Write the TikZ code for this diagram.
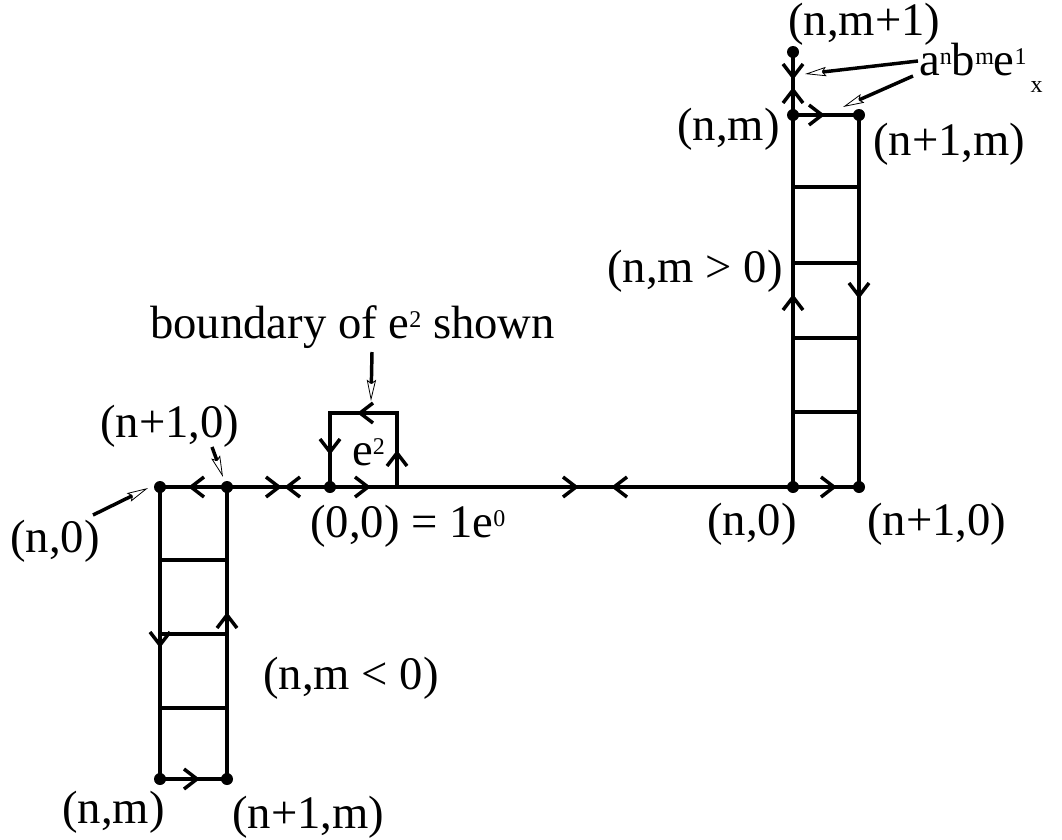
\documentclass[tikz,border=0pt]{standalone}
\usepackage{fontspec}
\setmainfont{Liberation Serif}
\usetikzlibrary{arrows.meta}
\newcommand\supx[1]{\raisebox{8pt}{\fontsize{18}{18}\selectfont #1}}
\newcommand\subx[1]{\raisebox{-13pt}{\fontsize{18}{18}\selectfont #1}}
\begin{document}
\begin{tikzpicture}[x=0.75pt,y=-0.75pt,
  edge/.style={line width=3pt, line cap=rect, line join=miter},
  chevline/.style={line width=2.6pt, line cap=butt, line join=miter},
  lbl/.style={inner sep=0pt, font=\fontsize{35}{40}\selectfont},
  ptr/.style={line width=2.6pt, -{Stealth[open, length=16pt, width=7pt, inset=2.5pt, line width=0.6pt]}},
  chevE/.pic={\draw[chevline] (-13,-10) -- (0,0) -- (-13,10);},
  chevW/.pic={\draw[chevline] (13,-10) -- (0,0) -- (13,10);},
  chevS/.pic={\draw[chevline] (-10,-13) -- (0,0) -- (10,-13);},
  chevN/.pic={\draw[chevline] (-10,13) -- (0,0) -- (10,13);}
]
\useasboundingbox (0,0) rectangle (1062,839);
% grid points
\coordinate (L00) at (160,487);
\coordinate (L10) at (227,487);
\coordinate (La1) at (160,560); \coordinate (Lb1) at (227,560);
\coordinate (La2) at (160,634); \coordinate (Lb2) at (227,634);
\coordinate (La3) at (160,708); \coordinate (Lb3) at (227,708);
\coordinate (L0m) at (160,779); \coordinate (L1m) at (227,779);
\coordinate (O) at (330,487);
\coordinate (B1) at (397,487); \coordinate (B2) at (397,413); \coordinate (B3) at (330,413);
\coordinate (R00) at (793,487); \coordinate (R10) at (859,487);
\coordinate (Ra1) at (793,412); \coordinate (Rb1) at (859,412);
\coordinate (Ra2) at (793,338); \coordinate (Rb2) at (859,338);
\coordinate (Ra3) at (793,263); \coordinate (Rb3) at (859,263);
\coordinate (Ra4) at (793,187); \coordinate (Rb4) at (859,187);
\coordinate (R0m) at (793,115); \coordinate (R1m) at (859,115);
\coordinate (Rtop) at (793,52);
% edges
\draw[edge] (L00) -- (R10);
\draw[edge] (L00) -- (L0m) -- (L1m) -- (L10);
\draw[edge] (La1) -- (Lb1);
\draw[edge] (La2) -- (Lb2);
\draw[edge] (La3) -- (Lb3);
\draw[edge] (O) -- (B3) -- (B2) -- (B1);
\draw[edge] (R00) -- (Rtop);
\draw[edge] (R0m) -- (R1m) -- (R10);
\draw[edge] (Ra1) -- (Rb1);
\draw[edge] (Ra2) -- (Rb2);
\draw[edge] (Ra3) -- (Rb3);
\draw[edge] (Ra4) -- (Rb4);
% dots
\foreach \p in {L00,L10,O,R00,R10,R0m,R1m,Rtop,L0m,L1m}
  \fill (\p) circle (6);
% chevrons
\pic at (191,487) {chevW};
\pic at (279,487) {chevE};
\pic at (287,487) {chevW};
\pic at (368,487) {chevE};
\pic at (576,487) {chevE};
\pic at (614,487) {chevW};
\pic at (834,487) {chevE};
\pic at (360,413) {chevW};
\pic at (330,452) {chevS};
\pic at (397,453) {chevN};
\pic at (160,645) {chevS};
\pic at (227,615) {chevN};
\pic at (197,779) {chevE};
\pic at (793,297) {chevN};
\pic at (859,296) {chevS};
\pic at (822,115) {chevE};
\pic at (793,77) {chevS};
\pic at (793,90) {chevN};
% labels
\node[lbl, anchor=base west] (nm1) at (788,35) {(n,m+1)};
\node[lbl, anchor=base west] (abe) at (919,75) {a\supx{n}b\supx{m}e\supx{1}\hspace{3pt}\subx{x}};
\node[lbl, anchor=base east] (nmR) at (780,140) {(n,m)};
\node[lbl, anchor=base west] (n1mR) at (873,155) {(n+1,m)};
\node[lbl, anchor=base east] (nmpos) at (783,282) {(n,m > 0)};
\node[lbl, anchor=base west] (bnd) at (150,338) {boundary of e\supx{2} shown};
\node[lbl, anchor=base west] (e2) at (352,465) {e\supx{2}};
\node[lbl, anchor=base west] (n10L) at (100,437) {(n+1,0)};
\node[lbl, anchor=base west] (n0L) at (10,552) {(n,0)};
\node[lbl, anchor=base west] (orig) at (310,537) {(0,0) = 1e\supx{0}};
\node[lbl, anchor=base east] (n0R) at (797,535) {(n,0)};
\node[lbl, anchor=base west] (n10R) at (867,535) {(n+1,0)};
\node[lbl, anchor=base west] (nmneg) at (263,689) {(n,m < 0)};
\node[lbl, anchor=base east] (nmB) at (165,823) {(n,m)};
\node[lbl, anchor=base west] (n1mB) at (232,828) {(n+1,m)};
% pointer arrows
\coordinate (a1s) at (918,61); \coordinate (a1e) at (805,74);
\coordinate (a2s) at (913,76); \coordinate (a2e) at (843,107);
\coordinate (a3s) at (93,515); \coordinate (a3e) at (148,488);
\coordinate (a4s) at (212,447); \coordinate (a4e) at (223,477);
\coordinate (a5s) at (372,352); \coordinate (a5e) at (371,401);
\draw[ptr] (a1s) -- (a1e);
\draw[ptr] (a2s) -- (a2e);
\draw[ptr] (a3s) -- (a3e);
\draw[ptr] (a4s) -- (a4e);
\draw[ptr] (a5s) -- (a5e);
\end{tikzpicture}
\end{document}
